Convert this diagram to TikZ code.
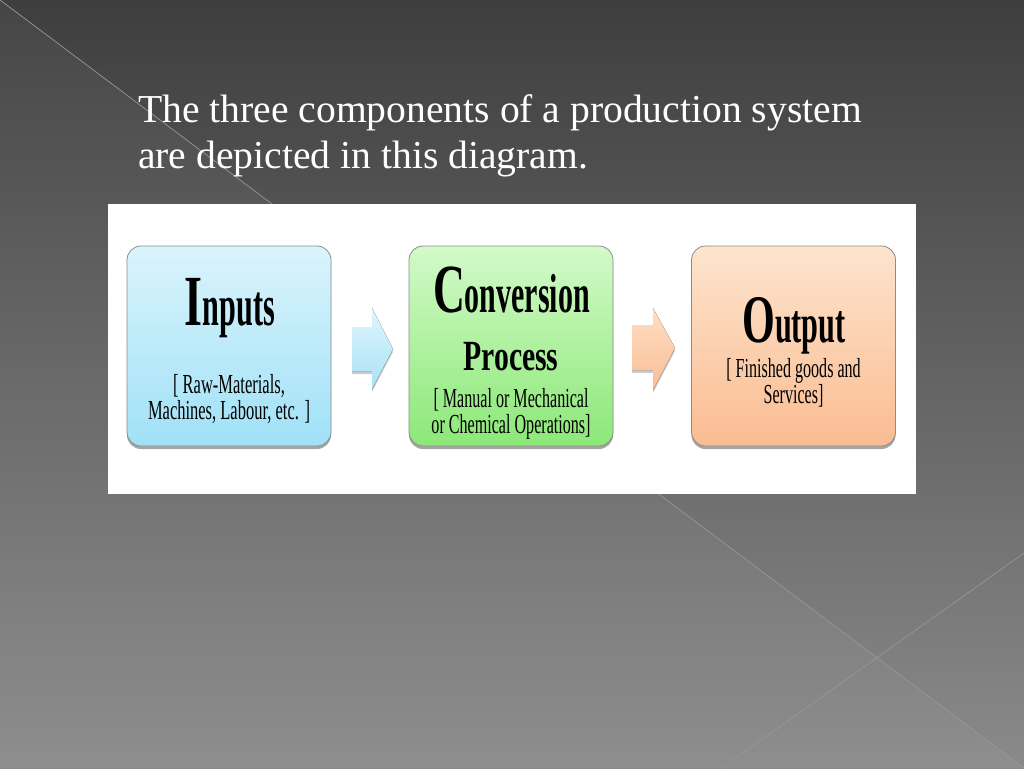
\documentclass[tikz,border=0pt]{standalone}
\usepackage{fontspec}
\setmainfont{Liberation Serif}
\usetikzlibrary{shadows}
\definecolor{bgtop}{RGB}{62,62,62}
\definecolor{bgbot}{RGB}{138,138,138}
\definecolor{bgline}{RGB}{150,150,150}
\definecolor{bluetop}{RGB}{218,244,252}
\definecolor{bluebot}{RGB}{160,225,247}
\definecolor{greentop}{RGB}{210,250,200}
\definecolor{greenbot}{RGB}{140,232,120}
\definecolor{orangetop}{RGB}{253,228,206}
\definecolor{orangebot}{RGB}{250,188,145}
\definecolor{abluetop}{RGB}{222,245,253}
\definecolor{ablubot}{RGB}{170,226,247}
\definecolor{aorangetop}{RGB}{253,222,196}
\definecolor{aorangebot}{RGB}{250,190,150}
\definecolor{panelborder}{RGB}{140,140,140}
\newcommand{\hsq}[3]{\scalebox{#1}[1]{\fontsize{#2}{#2}\selectfont #3}}
\newcommand{\subtext}[2]{\scalebox{#1}[1]{\fontsize{27.5}{25.5}\selectfont\begin{tabular}[t]{@{}c@{}}#2\end{tabular}}}
\begin{document}
\begin{tikzpicture}[x=1pt,y=-1pt,
  panel/.style={draw=panelborder, line width=0.8pt, rounded corners=14pt,
    minimum width=204pt, minimum height=200pt, inner sep=0pt,
    drop shadow={opacity=0.35, shadow xshift=0pt, shadow yshift=-3pt, fill=black}},
  head/.style={anchor=base, inner sep=0pt, font=\bfseries, text=black},
  sub/.style={anchor=base, inner sep=0pt, text=black},
  blockarrow/.style={drop shadow={opacity=0.2, shadow xshift=0pt, shadow yshift=-3pt, fill=black}},
  bgstroke/.style={draw=bgline, line width=0.7pt}
]
\useasboundingbox (0,0) rectangle (1024,768);
% background
\fill[top color=bgtop, bottom color=bgbot] (0,0) rectangle (1024,768);
\fill[white, opacity=0.04] (0,0) -- (1024,768) -- (0,768) -- cycle;
\coordinate (l1a) at (0,0);
\coordinate (l1b) at (1024,768);
\coordinate (l2a) at (722,768);
\coordinate (l2b) at (1024,553);
\draw[bgstroke] (l1a) -- (l1b);
\draw[bgstroke] (l2a) -- (l2b);

% title
\node[anchor=base west, inner sep=0pt, text=white] (title) at (138,122)
  {\fontsize{39.6}{46}\selectfont\begin{tabular}[t]{@{}l@{}}The three components of a production system\\ are depicted in this diagram.\end{tabular}};

% white panel
\node[fill=white, anchor=north west, minimum width=808pt, minimum height=290pt, inner sep=0pt] (whitepanel) at (108,204) {};

% boxes
\node[panel, top color=bluetop, bottom color=bluebot] (inputs) at (229,346) {};
\node[panel, top color=greentop, bottom color=greenbot] (conv) at (511,346) {};
\node[panel, top color=orangetop, bottom color=orangebot] (output) at (793.5,346) {};

% arrows
\fill[blockarrow, top color=abluetop, bottom color=ablubot]
  (352,327) -- (372,327) -- (372,308) -- (393,349) -- (372,389) -- (372,371) -- (352,371) -- cycle;
\fill[blockarrow, top color=aorangetop, bottom color=aorangebot]
  (632,325) -- (653,325) -- (653,308) -- (675,348) -- (653,390) -- (653,370) -- (632,370) -- cycle;

% texts: Inputs
\node[head] (inputsT) at (230,325) {\hsq{0.64}{72}{I}\hsq{0.52}{58}{nputs}};
\node[sub] (inputsS) at (229,393) {\subtext{0.6}{[ Raw-Materials,\\ Machines, Labour, etc. ]}};

% texts: Conversion
\node[head] (convT) at (511.5,312) {\hsq{0.64}{69}{C}\hsq{0.545}{55}{onversion}};
\node[head] (convP) at (511,370) {\hsq{0.69}{43}{Process}};
\node[sub] (convS) at (511,407) {\subtext{0.585}{[ Manual or Mechanical\\ or Chemical Operations]}};

% texts: Output
\node[head] (outT) at (794,342) {\hsq{0.62}{68}{O}\hsq{0.55}{55}{utput}};
\node[sub] (outS) at (793.5,377) {\subtext{0.585}{[ Finished goods and\\ Services]}};
\end{tikzpicture}
\end{document}
